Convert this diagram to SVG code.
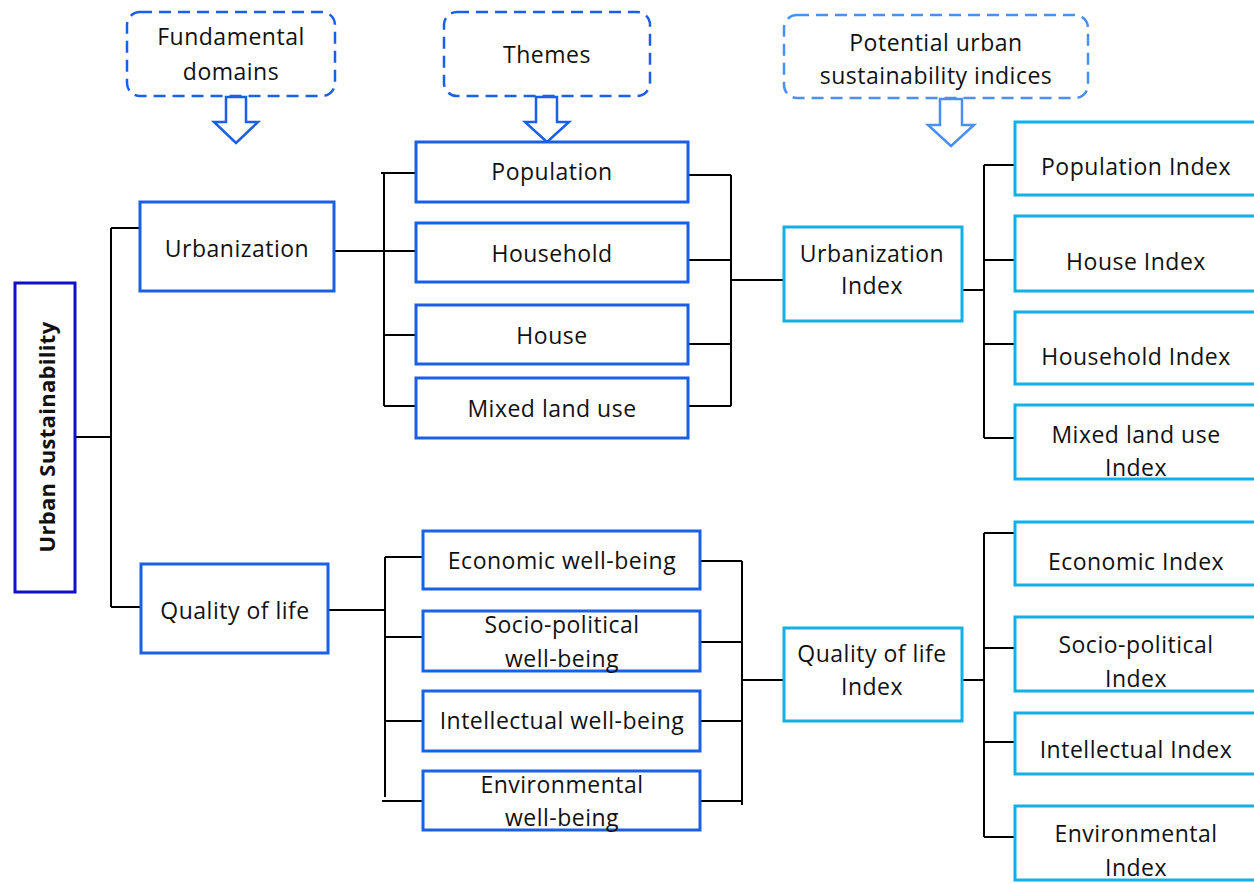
<svg xmlns="http://www.w3.org/2000/svg" width="1254" height="884" viewBox="0 0 1254 884">
<style>
text{font-family:"Open Sans","Noto Sans","Liberation Sans",sans-serif;font-size:23px;fill:#111;text-anchor:middle;letter-spacing:0.5px}
.b{fill:#fff;stroke:#1a60e6;stroke-width:3}
.c{fill:#fff;stroke:#12b0e6;stroke-width:3}
.d{fill:#fff;stroke:#1a60e6;stroke-width:2.5;stroke-dasharray:12 7}
.d2{fill:#fff;stroke:#4a90f0;stroke-width:2.5;stroke-dasharray:12 7}
.ar{fill:#fff;stroke:#1a60e6;stroke-width:2.5;stroke-linejoin:miter}
.ar2{fill:#fff;stroke:#4a90f0;stroke-width:2.5}
.l{fill:none;stroke:#000;stroke-width:2}
</style>
<rect width="1254" height="884" fill="#fff"/>
<g id="connectors">
<path class="l" d="M75 437H111M111 228V607M111 228H140M111 607H141"/>
<path class="l" d="M334 251H416M384 173V406M381 173H416M384 335H416M384 406H416"/>
<path class="l" d="M688 175H731M688 260H731M688 344H731M688 406H731M731 175V406M731 280H784"/>
<path class="l" d="M962 290H984M984 165V438M984 165H1015M984 260H1015M984 344H1015M984 438H1015"/>
<path class="l" d="M328 610H386M385 557V797M385 557H423M385 637H423M385 721H423M382 801H423"/>
<path class="l" d="M700 561H742M700 642H742M700 721H742M700 801H742M742 561V805M742 680H784"/>
<path class="l" d="M962 680H984M984 533V837M984 533H1015M984 648H1015M984 742H1015M984 837H1015"/>
</g>
<g id="hdr-domains">
<rect class="d" x="127" y="12" width="208" height="84" rx="13"/>
<text x="231" y="45">Fundamental</text>
<text x="231" y="80">domains</text>
<path class="ar" d="M226 97V122H214L236 143L258 122H246V97Z"/>
</g>
<g id="hdr-themes">
<rect class="d" x="444" y="12" width="206" height="84" rx="13"/>
<text x="547" y="63">Themes</text>
<path class="ar" d="M536 97V122H525L547 142L569 122H557V97Z"/>
</g>
<g id="hdr-indices">
<rect class="d2" x="784" y="15" width="304" height="83" rx="13"/>
<text x="936" y="51">Potential urban</text>
<text x="936" y="84">sustainability indices</text>
<path class="ar2" d="M940 99V125H928L951 146L974 125H962V99Z"/>
</g>
<g id="urban-sustainability">
<rect x="15" y="283" width="60" height="309" fill="#fff" stroke="#1010c8" stroke-width="3"/>
<text transform="translate(55 437) rotate(-90)" style="font-weight:bold;font-size:22px;letter-spacing:0.3px">Urban Sustainability</text>
</g>
<g id="urbanization"><rect class="b" x="140" y="202" width="194" height="89"/><text x="237" y="257">Urbanization</text></g>
<g id="quality"><rect class="b" x="141" y="564" width="187" height="89"/><text x="235" y="619">Quality of life</text></g>
<g id="population"><rect class="b" x="416" y="142" width="272" height="60"/><text x="552" y="180">Population</text></g>
<g id="household"><rect class="b" x="416" y="223" width="272" height="59"/><text x="552" y="262">Household</text></g>
<g id="house"><rect class="b" x="416" y="305" width="272" height="59"/><text x="552" y="344">House</text></g>
<g id="mixed"><rect class="b" x="416" y="378" width="272" height="60"/><text x="552" y="417">Mixed land use</text></g>
<g id="economic"><rect class="b" x="423" y="531" width="277" height="58"/><text x="562" y="569">Economic well-being</text></g>
<g id="socio"><rect class="b" x="423" y="611" width="277" height="60"/><text x="562" y="633">Socio-political</text><text x="562" y="667">well-being</text></g>
<g id="intellectual"><rect class="b" x="423" y="691" width="277" height="60"/><text x="562" y="729">Intellectual well-being</text></g>
<g id="environmental"><rect class="b" x="423" y="771" width="277" height="59"/><text x="562" y="793">Environmental</text><text x="562" y="826">well-being</text></g>
<g id="urbanization-index"><rect class="c" x="784" y="227" width="178" height="94"/><text x="872" y="262">Urbanization</text><text x="872" y="294">Index</text></g>
<g id="quality-index"><rect class="c" x="784" y="628" width="178" height="93"/><text x="872" y="662">Quality of life</text><text x="872" y="695">Index</text></g>
<g id="population-index"><rect class="c" x="1015" y="122" width="260" height="73"/><text x="1136" y="175">Population Index</text></g>
<g id="house-index"><rect class="c" x="1015" y="216" width="260" height="75"/><text x="1136" y="270">House Index</text></g>
<g id="household-index"><rect class="c" x="1015" y="312" width="260" height="72"/><text x="1136" y="365">Household Index</text></g>
<g id="mixed-index"><rect class="c" x="1015" y="405" width="260" height="74"/><text x="1136" y="443">Mixed land use</text><text x="1136" y="476">Index</text></g>
<g id="economic-index"><rect class="c" x="1015" y="522" width="260" height="63"/><text x="1136" y="570">Economic Index</text></g>
<g id="socio-index"><rect class="c" x="1015" y="617" width="260" height="74"/><text x="1136" y="653">Socio-political</text><text x="1136" y="687">Index</text></g>
<g id="intellectual-index"><rect class="c" x="1015" y="713" width="260" height="61"/><text x="1136" y="758">Intellectual Index</text></g>
<g id="environmental-index"><rect class="c" x="1015" y="806" width="260" height="74"/><text x="1136" y="876">Index</text><text x="1136" y="842">Environmental</text></g>
</svg>
